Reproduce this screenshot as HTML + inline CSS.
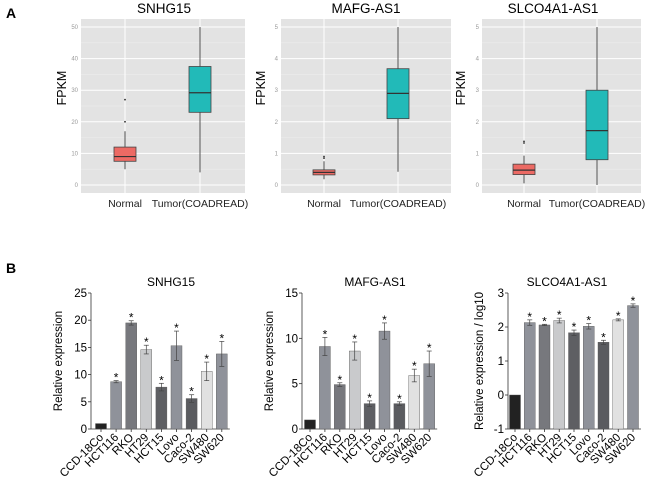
<!DOCTYPE html>
<html><head><meta charset="utf-8"><style>
body{margin:0;background:#fff}
svg{display:block;font-family:"Liberation Sans",Arial,sans-serif}
</style></head><body>
<svg id="s" width="650" height="494" viewBox="0 0 650 494">
<text x="6" y="18" font-size="14" font-weight="bold">A</text>
<text x="6" y="273" font-size="14" font-weight="bold">B</text>
</svg>
<script>
const NS="http://www.w3.org/2000/svg";
const svg=document.getElementById('s');
function mk(tag,attrs,parent){const e=document.createElementNS(NS,tag);for(const k in attrs)e.setAttribute(k,attrs[k]);(parent||svg).appendChild(e);return e;}

// ---- Panel A data ----
const boxTitles=["SNHG15","MAFG-AS1","SLCO4A1-AS1"];
const boxCategories=["Normal","Tumor(COADREAD)"];
const boxTicks=[[0,10,20,30,40,50],[0,1,2,3,4,5],[0,1,2,3,4,5]];
// [whiskerLow, q1, median, q3, whiskerHigh]
const boxNormal=[[5,7.5,9,12,17],[0.18,0.32,0.4,0.48,0.75],[0.05,0.33,0.47,0.66,0.93]];
const boxTumor=[[4,23,29.2,37.5,50],[0.42,2.1,2.9,3.68,5],[0,0.8,1.72,3.0,5]];
const boxOutliers=[[20,27],[0.85,0.9],[1.33,1.38]];

const boxLayout=[{x0:81,x1:245,cx:[125,200],tx:164,lx:66},{x0:281,x1:451,cx:[324,398],tx:366,lx:265},{x0:482,x1:641,cx:[524,597],tx:553,lx:465}];
boxTitles.forEach((t,i)=>{
  const L=boxLayout[i];const tk=boxTicks[i];const max=tk[tk.length-1];
  const y=v=>185-v/max*158;
  const g=mk('g',{});
  
  
  const bg=mk('rect',{x:L.x0,y:19,width:L.x1-L.x0,height:174,fill:'#e3e3e3'},g);
  
  
  for(let j=0;j<tk.length;j++){
    mk('line',{x1:L.x0,x2:L.x1,y1:y(tk[j]),y2:y(tk[j]),stroke:'#fff','stroke-width':1},g);
    if(j<tk.length-1)mk('line',{x1:L.x0,x2:L.x1,y1:y((tk[j]+tk[j+1])/2),y2:y((tk[j]+tk[j+1])/2),stroke:'#efefef','stroke-width':0.5},g);
    const lb=mk('text',{x:L.x0-3,y:y(tk[j])+2,'font-size':6,fill:'#999','text-anchor':'end'},g);lb.textContent=tk[j];
    
    
  }
  L.cx.forEach(cx=>mk('line',{x1:cx,x2:cx,y1:19,y2:193,stroke:'#fff','stroke-width':1},g));
  const tt=mk('text',{x:L.tx,y:13,'font-size':13.5,'text-anchor':'middle'},g);tt.textContent=t;
  
  
  const yl=mk('text',{x:L.lx,y:88,'font-size':12.5,'text-anchor':'middle',transform:`rotate(-90 ${L.lx} 88)`},g);yl.textContent='FPKM';
  
  
  [boxNormal[i],boxTumor[i]].forEach((b,k)=>{
    const cx=L.cx[k];const col=k==0?'#ec6a64':'#22bab8';
    mk('line',{x1:cx,x2:cx,y1:y(b[0]),y2:y(b[4]),stroke:'#555','stroke-width':1},g);
    const r=mk('rect',{x:cx-11,y:y(b[3]),width:22,height:y(b[1])-y(b[3]),fill:col,stroke:'#444','stroke-width':0.8},g);
    
    
    mk('line',{x1:cx-11,x2:cx+11,y1:y(b[2]),y2:y(b[2]),stroke:'#333','stroke-width':1.2},g);
    const xl=mk('text',{x:cx,y:207,'font-size':10.5,'text-anchor':'middle',fill:'#222'},g);xl.textContent=boxCategories[k];
    
    
  });
  boxOutliers[i].forEach(v=>mk('circle',{cx:L.cx[0],cy:y(v),r:0.9,fill:'#333'},g));
});

// ---- Panel B data ----
const cellLines=["CCD-18Co","HCT116","RKO","HT29","HCT15","Lovo","Caco-2","SW480","SW620"];
const barTitles=["SNHG15","MAFG-AS1","SLCO4A1-AS1"];
const barYLabels=["Relative expression","Relative expression","Relative expression / log10"];
const snhgValues=[1,8.7,19.5,14.6,7.7,15.3,5.6,10.6,13.8];
const snhgErrors=[0,0.2,0.4,0.8,0.7,2.7,0.7,1.7,2.3];
const mafgValues=[1,9.1,4.9,8.6,2.8,10.8,2.8,5.9,7.2];
const mafgErrors=[0,1.0,0.2,1.0,0.3,0.9,0.2,0.7,1.4];
const slcoValues=[0,2.13,2.06,2.19,1.83,2.02,1.55,2.21,2.63];
const slcoErrors=[0,0.08,0.02,0.07,0.08,0.08,0.06,0.03,0.05];
const snhgTicks=[0,5,10,15,20,25];
const mafgTicks=[0,5,10,15];
const slcoTicks=[-1,0,1,2,3];
const barColors=['#222','#8f929a','#77787d','#c9cacc','#5e5f63','#8f929a','#5a5b5f','#e1e1e1','#8f929a'];

const barSets=[
 {vals:snhgValues,errs:snhgErrors,ticks:snhgTicks,ax:91,b0:101,step:15.1,tx:171,lx:62},
 {vals:mafgValues,errs:mafgErrors,ticks:mafgTicks,ax:302,b0:310,step:14.9,tx:375,lx:273},
 {vals:slcoValues,errs:slcoErrors,ticks:slcoTicks,ax:508,b0:515,step:14.75,tx:567,lx:483}
];
barSets.forEach((S,i)=>{
  const mn=S.ticks[0],mx=S.ticks[S.ticks.length-1];
  const y=v=>429-(v-mn)/(mx-mn)*136;
  const g=mk('g',{});
  
  
  const tt=mk('text',{x:S.tx,y:286,'font-size':12,'text-anchor':'middle'},g);tt.textContent=barTitles[i];
  
  
  const yl=mk('text',{x:S.lx,y:361,'font-size':11.5,'text-anchor':'middle',transform:`rotate(-90 ${S.lx} 361)`},g);yl.textContent=barYLabels[i];
  
  
  const xEnd=S.b0+S.step*8+8;
  mk('line',{x1:S.ax,x2:S.ax,y1:y(mx),y2:429,stroke:'#333','stroke-width':0.8},g);
  mk('line',{x1:S.ax,x2:xEnd,y1:429,y2:429,stroke:'#333','stroke-width':0.8},g);
  S.ticks.forEach(t=>{
    mk('line',{x1:S.ax-3,x2:S.ax,y1:y(t),y2:y(t),stroke:'#333','stroke-width':0.8},g);
    const lb=mk('text',{x:S.ax-4,y:y(t)+4,'font-size':11.5,'text-anchor':'end'},g);lb.textContent=t;
    
    
  });
  S.vals.forEach((v,k)=>{
    const cx=S.b0+k*S.step;
    const b=mk('rect',{x:cx-5.5,y:y(v),width:11,height:y(mn)-y(v),fill:barColors[k],stroke:'#555','stroke-width':0.4},g);
    
    
    mk('line',{x1:cx,x2:cx,y1:429,y2:432,stroke:'#333','stroke-width':0.8},g);
    const e=S.errs[k];
    if(e>0){
      mk('line',{x1:cx,x2:cx,y1:y(v+e),y2:y(v-e),stroke:'#444','stroke-width':0.7},g);
      mk('line',{x1:cx-2.5,x2:cx+2.5,y1:y(v+e),y2:y(v+e),stroke:'#444','stroke-width':0.7},g);
      mk('line',{x1:cx-2.5,x2:cx+2.5,y1:y(v-e),y2:y(v-e),stroke:'#444','stroke-width':0.7},g);
    }
    if(k>0){
      const st=mk('text',{x:cx,y:y(v+e)+1,'font-size':12,'text-anchor':'middle'},g);st.textContent='*';
      
      
    }
    const xl=mk('text',{x:cx+3,y:438,'font-size':11.5,'text-anchor':'end',transform:`rotate(-45 ${cx+3} 438)`},g);xl.textContent=cellLines[k];
    
    
  });
});
</script>
</body></html>
